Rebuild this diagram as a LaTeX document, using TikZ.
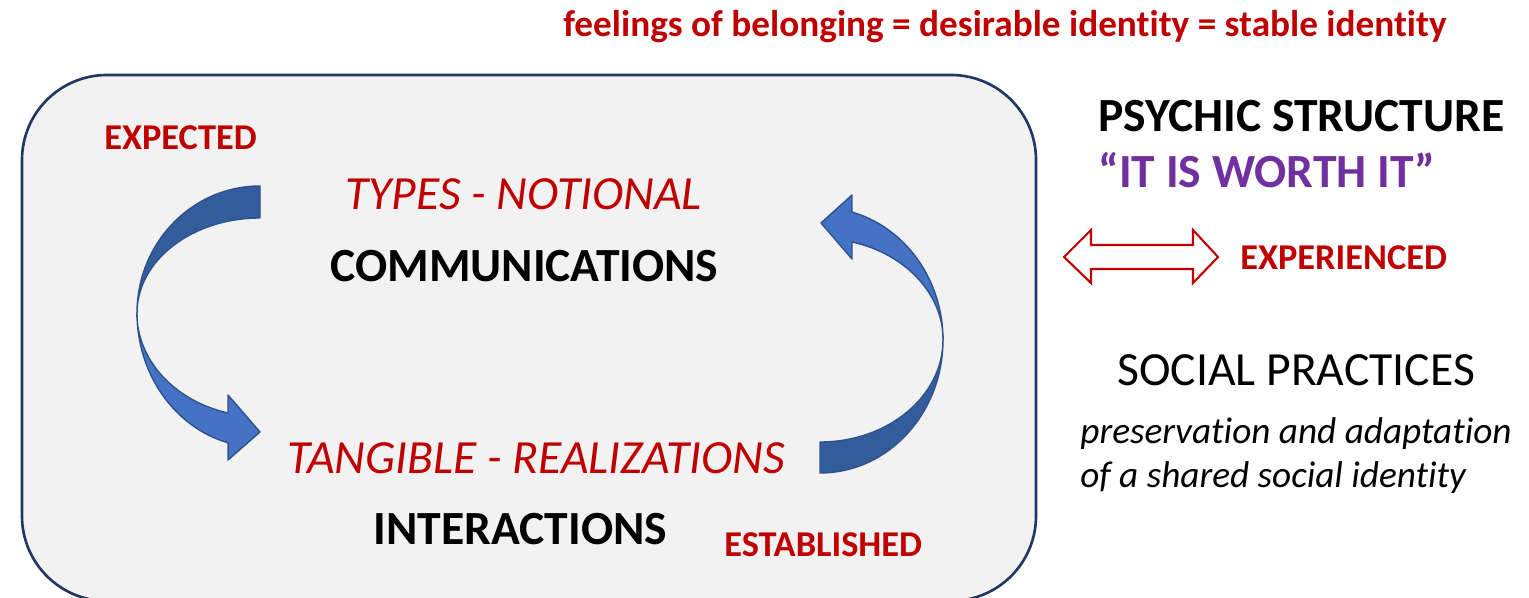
\documentclass[tikz,border=0pt]{standalone}
\usepackage{fontspec}
\setmainfont{Carlito}[Ligatures={NoCommon}]
\usepackage{xcolor}
\usepackage{tikz}
\usetikzlibrary{positioning}
\definecolor{darkred}{HTML}{C00000}
\definecolor{navy}{HTML}{1F3864}
\definecolor{arrowdark}{HTML}{335C9C}
\definecolor{arrowlight}{HTML}{4472C4}
\definecolor{arrowedge}{HTML}{2F528F}
\definecolor{boxfill}{HTML}{F2F2F2}
\definecolor{worth}{HTML}{7030A0}

\begin{document}
\begin{tikzpicture}[
    x=0.02cm, y=0.02cm,
    every node/.style={inner sep=0pt, anchor=base west},
    big/.style={font=\fontsize{27.1}{32}\selectfont},
    redtag/.style={text=darkred, font=\fontsize{20.7}{24}\selectfont\bfseries},
    curve/.style={draw=arrowedge, line width=0.8pt, line join=round}
]
    \useasboundingbox (0,0) rectangle (1529,598);
    \fill[white] (0,0) rectangle (1529,598);
    \draw[navy, line width=1.5pt, fill=boxfill, rounded corners=1.7cm] (22,-3) rectangle (1036,523);

    \fill[arrowdark, curve] (260,412)
        arc[start angle=90, end angle=180, x radius=2.46cm, y radius=2.54cm]
        arc[start angle=180, end angle=90, x radius=2.46cm, y radius=1.9cm] -- cycle;
    \fill[arrowlight, curve] (137,285)
        arc[start angle=180, end angle=255, x radius=2.46cm, y radius=2.69cm]
        -- (228,138) -- (260,166) -- (228,203) -- (228,185)
        arc[start angle=255, end angle=180, x radius=2.46cm, y radius=2.07cm] -- cycle;
    \fill[arrowdark, curve] (820,125)
        arc[start angle=270, end angle=360, x radius=2.46cm, y radius=2.66cm]
        arc[start angle=0, end angle=-90, x radius=2.46cm, y radius=2.04cm] -- cycle;
    \fill[arrowlight, curve] (943,258)
        arc[start angle=0, end angle=75, x radius=2.46cm, y radius=2.65cm]
        -- (852,403) -- (821,375) -- (852,339) -- (852,356)
        arc[start angle=75, end angle=0, x radius=2.46cm, y radius=2.03cm] -- cycle;

    \draw[darkred, line width=1.2pt, fill=white, line join=miter]
        (1064,341) -- (1091,368) -- (1091,353) -- (1193,353) -- (1193,368) -- (1218,341)
        -- (1193,315) -- (1193,329) -- (1091,329) -- (1091,315) -- cycle;

    \node[redtag, font=\fontsize{21.2}{24}\selectfont\bfseries] (title) at (563,561) {feelings of belonging = desirable identity = stable identity};
    \node[redtag] (expected) at (104,448) {EXPECTED};
    \node[big, text=darkred, font=\fontsize{27.1}{32}\selectfont\itshape] (types) at (345,388) {TYPES - NOTIONAL};
    \node[big, font=\fontsize{27.1}{32}\selectfont\bfseries] (comm) at (330,316) {COMMUNICATIONS};
    \node[big, text=darkred, font=\fontsize{27.1}{32}\selectfont\itshape] (tangible) at (287,124) {TANGIBLE - REALIZATIONS};
    \node[big, font=\fontsize{27.1}{32}\selectfont\bfseries] (inter) at (373,53) {INTERACTIONS};
    \node[redtag] (established) at (724,41) {ESTABLISHED};
    \node[big, font=\fontsize{27.1}{32}\selectfont\bfseries] (psychic) at (1098,466) {PSYCHIC STRUCTURE};
    \node[big, text=worth, font=\fontsize{27.1}{32}\selectfont\bfseries] (worth) at (1098,410) {“IT IS WORTH IT”};
    \node[redtag] (experienced) at (1240,328) {EXPERIENCED};
    \node[big] (social) at (1117,212) {SOCIAL PRACTICES};
    \node[font=\fontsize{21.2}{24}\selectfont\itshape] (preserve) at (1080,154) {preservation and adaptation};
    \node[font=\fontsize{21.2}{24}\selectfont\itshape] (shared) at (1080,110) {of a shared social identity};
\end{tikzpicture}
\end{document}
